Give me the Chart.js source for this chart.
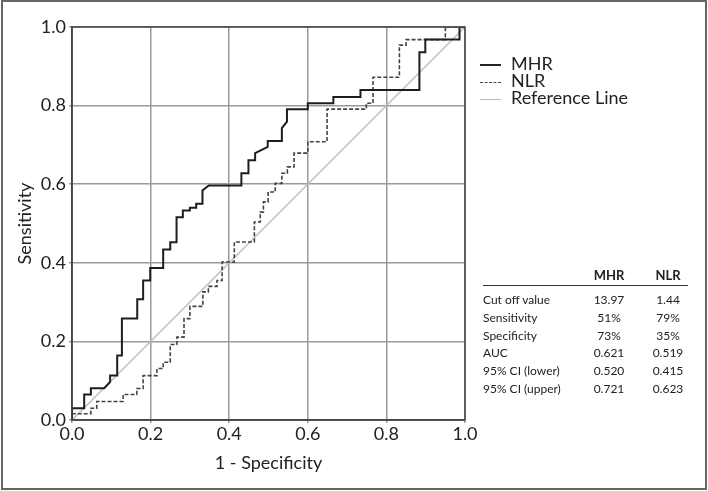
<!DOCTYPE html>
<html>
<head>
<meta charset="utf-8">
<script src="https://cdn.jsdelivr.net/npm/chart.js@4.4.1/dist/chart.umd.min.js"></script>
<style>
  body { margin: 0; background: #fff; font-family: Lato, "Open Sans", sans-serif; color: #222; }
  #wrap { position: relative; width: 708px; height: 491px; }
  #roc { position: absolute; left: 0; top: 0; }
  .leg { position: absolute; left: 480px; font-size: 18px; line-height: 17px; white-space: nowrap; }
  .leg span.ln { display: inline-block; width: 21px; margin-right: 10px; vertical-align: middle; }
  #stats { position: absolute; left: 483px; top: 266px; border-collapse: collapse; font-size: 12px; }
  #stats td, #stats th { padding: 0; height: 17.8px; line-height: 17.8px; white-space: nowrap; }
  #stats th { font-weight: bold; font-size: 13px; text-align: center; height: 19px; }
  #stats td.v { text-align: center; }
  #hline { position: absolute; left: 483px; top: 285px; width: 205px; height: 0; border-top: 1.5px solid #333; }
</style>
</head>
<body>
<div id="wrap">
  <canvas id="roc" width="708" height="491"></canvas>
  <div class="leg" style="top:55px"><span class="ln" style="border-top:2px solid #222"></span>MHR</div>
  <div class="leg" style="top:72px"><span class="ln" style="border-top:1.5px dashed #444"></span>NLR</div>
  <div class="leg" style="top:89px"><span class="ln" style="border-top:1.5px solid #bbb"></span>Reference Line</div>
  <table id="stats"></table>
  <div id="hline"></div>
</div>
<script>
// ROC coordinates (1 - specificity, sensitivity)
const mhrFpr = [0, 0, 0.031, 0.031, 0.048, 0.048, 0.082, 0.097, 0.097, 0.115, 0.115, 0.127, 0.127, 0.166, 0.166, 0.181, 0.181, 0.199, 0.199, 0.232, 0.232, 0.25, 0.25, 0.266, 0.266, 0.282, 0.282, 0.30, 0.30, 0.316, 0.316, 0.332, 0.332, 0.348, 0.431, 0.431, 0.449, 0.449, 0.466, 0.466, 0.498, 0.498, 0.534, 0.534, 0.547, 0.547, 0.60, 0.60, 0.665, 0.665, 0.734, 0.734, 0.884, 0.884, 0.899, 0.899, 0.986, 0.986, 1];
const mhrTpr = [0, 0.03, 0.03, 0.065, 0.065, 0.081, 0.081, 0.097, 0.113, 0.113, 0.164, 0.164, 0.258, 0.258, 0.307, 0.307, 0.355, 0.355, 0.387, 0.387, 0.434, 0.434, 0.452, 0.452, 0.516, 0.516, 0.533, 0.533, 0.54, 0.54, 0.55, 0.55, 0.584, 0.597, 0.597, 0.628, 0.628, 0.661, 0.661, 0.679, 0.695, 0.71, 0.71, 0.743, 0.759, 0.791, 0.791, 0.806, 0.806, 0.822, 0.822, 0.84, 0.84, 0.936, 0.936, 0.968, 0.968, 1, 1];

const nlrFpr = [0, 0, 0.048, 0.048, 0.063, 0.063, 0.13, 0.13, 0.165, 0.165, 0.181, 0.181, 0.216, 0.216, 0.232, 0.232, 0.25, 0.25, 0.267, 0.267, 0.285, 0.285, 0.30, 0.30, 0.333, 0.333, 0.347, 0.347, 0.369, 0.369, 0.382, 0.382, 0.413, 0.413, 0.464, 0.464, 0.479, 0.479, 0.487, 0.487, 0.499, 0.499, 0.517, 0.517, 0.534, 0.534, 0.548, 0.548, 0.565, 0.565, 0.60, 0.60, 0.649, 0.649, 0.749, 0.749, 0.766, 0.766, 0.833, 0.833, 0.85, 0.85, 0.95, 0.95, 1];
const nlrTpr = [0, 0.016, 0.016, 0.03, 0.03, 0.047, 0.047, 0.065, 0.065, 0.08, 0.08, 0.113, 0.113, 0.131, 0.131, 0.147, 0.147, 0.192, 0.192, 0.211, 0.211, 0.258, 0.258, 0.289, 0.289, 0.326, 0.326, 0.34, 0.34, 0.355, 0.355, 0.402, 0.402, 0.453, 0.453, 0.504, 0.504, 0.529, 0.529, 0.555, 0.555, 0.58, 0.58, 0.602, 0.602, 0.628, 0.628, 0.644, 0.644, 0.679, 0.679, 0.708, 0.708, 0.791, 0.791, 0.806, 0.806, 0.872, 0.872, 0.954, 0.954, 0.968, 0.968, 1, 1];

const refX = [0, 1];
const refY = [0, 1];

const axisTicks = [0, 0.2, 0.4, 0.6, 0.8, 1.0];

// table beside the plot
const statLabels = ["Cut off value", "Sensitivity", "Specificity", "AUC", "95% CI (lower)", "95% CI (upper)"];
const statMHR = ["13.97", "51%", "73%", "0.621", "0.520", "0.721"];
const statNLR = ["1.44", "79%", "35%", "0.519", "0.415", "0.623"];

const toPts = (xs, ys) => xs.map((x, i) => ({ x: x, y: ys[i] }));

// build the stats table
const tbl = document.getElementById("stats");
let html = '<tr><th style="width:100px"></th><th style="width:52px">MHR</th><th style="width:66px">NLR</th></tr>';
html += '<tr><td style="height:6px" colspan="3"></td></tr>';
statLabels.forEach((lab, i) => {
    html += `<tr><td>${lab}</td><td class="v">${statMHR[i]}</td><td class="v">${statNLR[i]}</td></tr>`;
});
tbl.innerHTML = html;

// outer frame around the whole figure + dark box round the plot
const framePlugin = {
    id: "frame",
    beforeDraw(chart) {
        const c = chart.ctx;
        c.save();
        c.strokeStyle = "#666";
        c.lineWidth = 2;
        c.strokeRect(2, 1, 704, 488);
        c.restore();
    },
    afterDatasetsDraw(chart) {
        const a = chart.chartArea;
        const c = chart.ctx;
        c.save();
        c.strokeStyle = "#444";
        c.lineWidth = 1.5;
        c.strokeRect(a.left, a.top, a.right - a.left, a.bottom - a.top);
        c.restore();
    }
};

const gridColor = "#9a9a9a";
const tickFont = { family: "Lato", size: 18 };

const chart = new Chart(document.getElementById("roc"), {
    type: "scatter",
    data: {
        datasets: [
            {
                label: "Reference Line",
                data: toPts(refX, refY),
                showLine: true,
                borderColor: "#bdbdbd",
                borderWidth: 1.5,
                pointRadius: 0,
                order: 3
            },
            {
                label: "NLR",
                data: toPts(nlrFpr, nlrTpr),
                showLine: true,
                borderColor: "#444",
                borderWidth: 1.6,
                borderDash: [4, 2],
                pointRadius: 0,
                order: 2
            },
            {
                label: "MHR",
                data: toPts(mhrFpr, mhrTpr),
                showLine: true,
                borderColor: "#1e1e1e",
                borderWidth: 2,
                pointRadius: 0,
                order: 1
            }
        ]
    },
    options: {
        responsive: false,
        animation: false,
        layout: { padding: { top: 27, right: 243, left: 0, bottom: 0 } },
        plugins: {
            legend: { display: false },
            tooltip: { enabled: false }
        },
        scales: {
            x: {
                type: "linear",
                min: 0,
                max: 1,
                afterBuildTicks(scale) { scale.ticks = axisTicks.map(v => ({ value: v })); },
                afterFit(scale) { scale.height = 71; },
                ticks: {
                    font: tickFont,
                    color: "#222",
                    padding: 0,
                    maxRotation: 0,
                    callback: v => Number(v).toFixed(1)
                },
                grid: { color: gridColor, lineWidth: 1.5, tickLength: 3 },
                border: { color: "#444", width: 1.5 },
                title: {
                    display: true,
                    text: "1 - Specificity",
                    font: { family: "Lato", size: 18 },
                    color: "#222",
                    padding: { top: 0, bottom: 17 }
                }
            },
            y: {
                type: "linear",
                min: 0,
                max: 1,
                afterBuildTicks(scale) { scale.ticks = axisTicks.map(v => ({ value: v })); },
                afterFit(scale) { scale.width = 72; },
                ticks: {
                    font: tickFont,
                    color: "#222",
                    padding: 3,
                    callback: v => Number(v).toFixed(1)
                },
                grid: { color: gridColor, lineWidth: 1.5, tickLength: 3 },
                border: { color: "#444", width: 1.5 },
                title: {
                    display: true,
                    text: "Sensitivity",
                    font: { family: "Lato", size: 18 },
                    color: "#222",
                    padding: { top: 14, bottom: 0 }
                }
            }
        }
    },
    plugins: [framePlugin]
});
</script>
</body>
</html>
